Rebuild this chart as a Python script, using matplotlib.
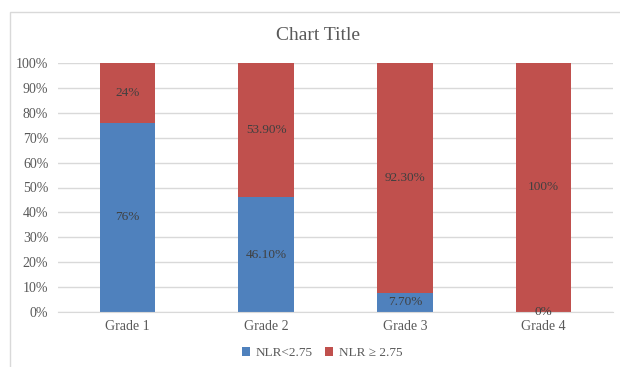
import numpy as np
import matplotlib
matplotlib.use("Agg")
import matplotlib.pyplot as plt
from matplotlib.patches import Rectangle

plt.rcParams.update({
    "font.family": ["Liberation Serif", "DejaVu Serif"],
    "font.size": 9.5,
})

grades = ["Grade 1", "Grade 2", "Grade 3", "Grade 4"]
low = [76, 46.1, 7.7, 0]
high = [24, 53.9, 92.3, 100]
low_labels = ["76%", "46.10%", "7.70%", "0%"]
high_labels = ["24%", "53.90%", "92.30%", "100%"]
series = ["NLR<2.75", "NLR \u2265 2.75"]

BLUE, RED = "#4F81BD", "#C0504D"
TXT, GRID = "#595959", "#d9d9d9"

fig = plt.figure(figsize=(6.2, 3.67), dpi=100)
fig.patches.append(Rectangle((10 / 620, -0.1), 1.2, 1 - 12 / 367 + 0.1,
                             transform=fig.transFigure, fill=False,
                             edgecolor=GRID, lw=1))
ax = fig.add_axes([58 / 620, 1 - 312 / 367, 555 / 620, 249 / 367])

x = np.arange(len(grades))
w = 0.4
b1 = ax.bar(x, low, w, color=BLUE, label=series[0], zorder=2)
b2 = ax.bar(x, high, w, bottom=low, color=RED, label=series[1], zorder=2)
ax.bar_label(b1, labels=low_labels, label_type="center", color="#404040", fontsize=9.5)
ax.bar_label(b2, labels=high_labels, label_type="center", color="#404040", fontsize=9.5)

ax.set_xlim(-0.5, 3.5)
ax.set_ylim(0, 100)
ax.set_yticks(range(0, 101, 10))
ax.set_yticklabels([f"{v}%" for v in range(0, 101, 10)])
ax.set_xticks(x)
ax.set_xticklabels(grades)
ax.tick_params(length=0, colors=TXT, labelsize=10, pad=6)
ax.tick_params(axis="y", pad=7)
ax.grid(axis="y", color=GRID, lw=1, zorder=0)
for s in ["top", "right", "left"]:
    ax.spines[s].set_visible(False)
ax.spines["bottom"].set_color(GRID)

fig.text(318 / 620, 1 - 35 / 367, "Chart Title", ha="center", va="center",
         fontsize=14, color=TXT)
fig.legend(loc="center", bbox_to_anchor=(322 / 620, 1 - 353 / 367), ncol=2,
           frameon=False, handlelength=0.6, handleheight=0.6, handletextpad=0.4,
           columnspacing=1.0, labelcolor=TXT, fontsize=9.5)

fig.savefig("out.png", dpi=100)
